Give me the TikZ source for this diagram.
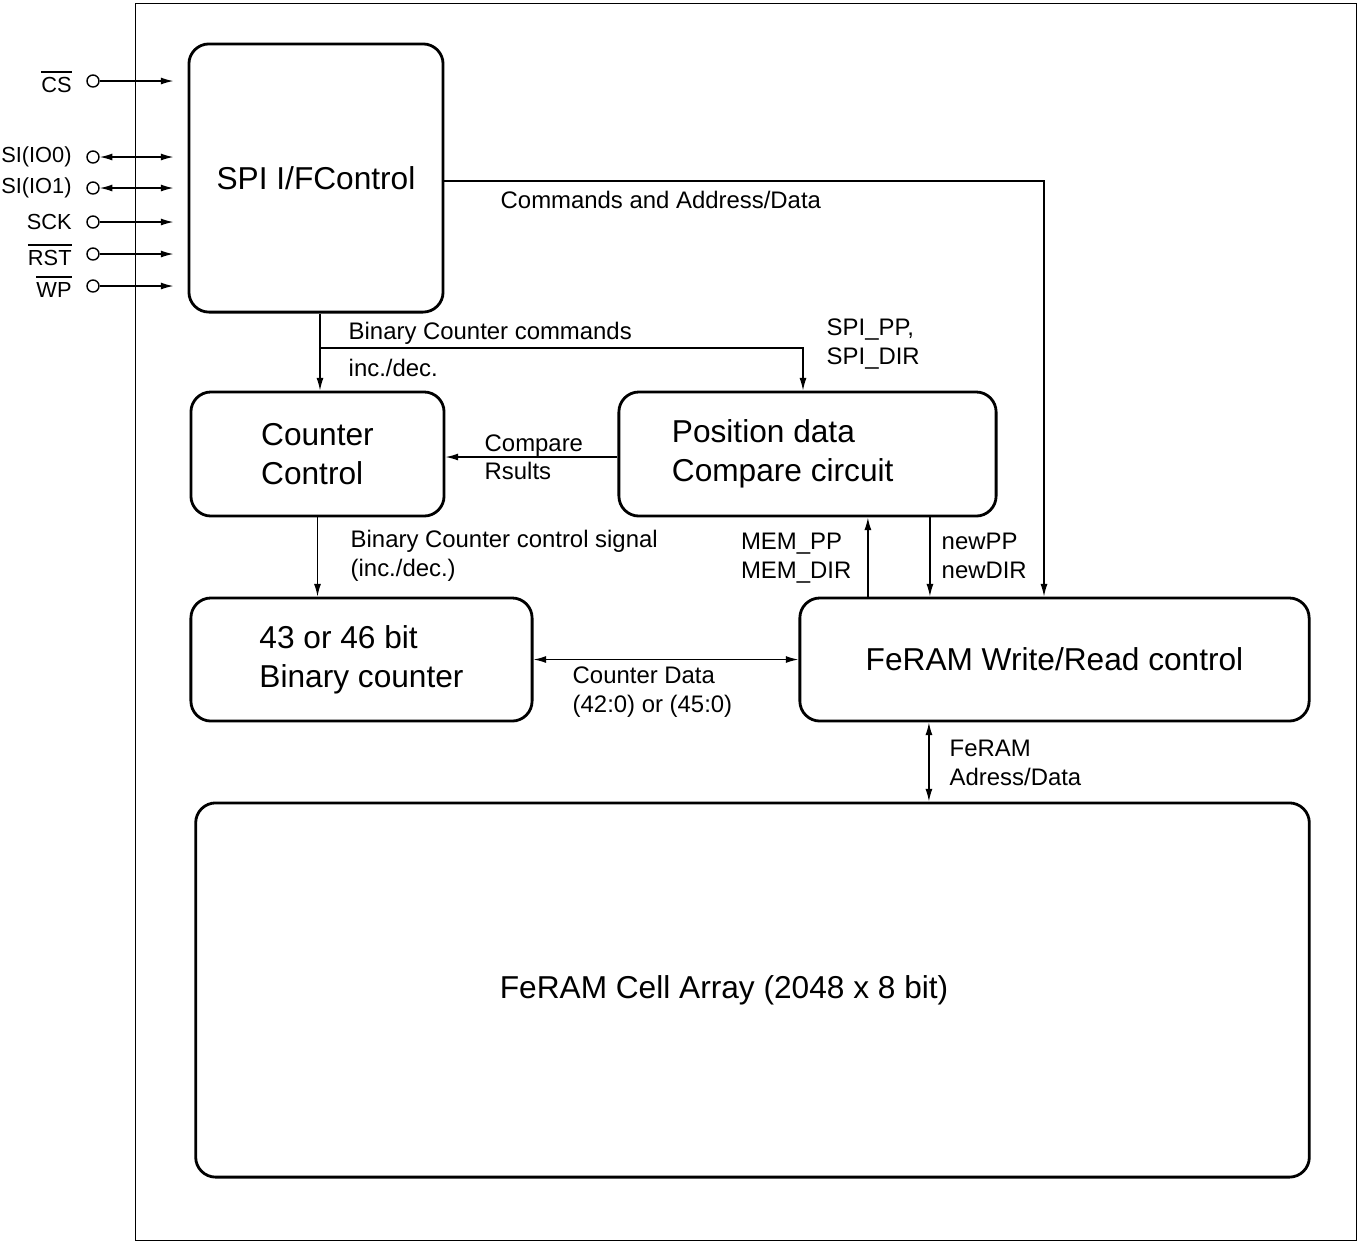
\documentclass[tikz,border=0pt]{standalone}
\usepackage{fontspec}
\setmainfont{Liberation Sans}
\usetikzlibrary{arrows.meta,positioning}
\tikzstyle{blk} = [rectangle, draw=black, line width=0.8pt, rounded corners=2mm, font=\fontsize{9}{11.1}\selectfont, align=left]
\tikzstyle{lbl} = [inner sep=0, font=\fontsize{6.8}{8.1}\selectfont, align=left]
\tikzstyle{pin} = [circle, draw=black, minimum size=1.2mm, inner sep=0]
\tikzstyle{pinlbl} = [inner sep=0, font=\fontsize{6.2}{7}\selectfont]

\begin{document}
\begin{tikzpicture}[x=0.01cm,y=-0.01cm,>={Latex[length=3.6pt,width=2pt]}]
	\useasboundingbox (0,0) rectangle (1357,1241);
	\node[draw,minimum width=122mm,minimum height=123.6mm,inner sep=0](chip) at (746,622) {};
	
	\node[blk,minimum width=25.4mm,minimum height=26.8mm](spi) at (316,178) {SPI I/FControl};
	\node[blk,minimum width=25.3mm,minimum height=12.4mm](ctr) at (317.5,454) {Counter\\Control};
	\node[blk,minimum width=37.7mm,minimum height=12.4mm,text width=27.1mm,inner xsep=0,align=flush left](pos) at (807.5,454) {Position data\\Compare circuit};
	\node[blk,minimum width=34.1mm,minimum height=12.3mm](bin) at (361.5,659.5) {43 or 46 bit\\Binary counter};
	\node[blk,minimum width=50.9mm,minimum height=12.3mm](wr) at (1054.5,659.5) {FeRAM Write/Read control};
	\node[blk,minimum width=111.3mm,minimum height=37.4mm,text width=50.5mm,inner xsep=0,align=flush left](cell) at (752.5,990) {FeRAM Cell Array (2048 x 8 bit)};
	
	% pins
	\node[pin](pcs) at (93,81) {};
	\node[pinlbl](lcs)[left=1.4mm of pcs]{$\overline{\mbox{CS}}$};
	\draw[->,shorten >=1.4mm] (pcs) -- (pcs -| spi.west);
	\node[pin](psi0) at (93,157) {};
	\node[pinlbl](lsi0)[left=1.4mm of psi0]{SI(IO0)};
	\draw[<->,shorten >=1.4mm] (psi0) -- (psi0 -| spi.west);
	\node[pin](psi1) at (93,188) {};
	\node[pinlbl](lsi1)[left=1.4mm of psi1]{SI(IO1)};
	\draw[<->,shorten >=1.4mm] (psi1) -- (psi1 -| spi.west);
	\node[pin](psck) at (93,222) {};
	\node[pinlbl](lsck)[left=1.4mm of psck]{SCK};
	\draw[->,shorten >=1.4mm] (psck) -- (psck -| spi.west);
	\node[pin](prst) at (93,254) {};
	\node[pinlbl](lrst)[left=1.4mm of prst]{$\overline{\mbox{RST}}$};
	\draw[->,shorten >=1.4mm] (prst) -- (prst -| spi.west);
	\node[pin](pwp) at (93,286) {};
	\node[pinlbl](lwp)[left=1.4mm of pwp]{$\overline{\mbox{WP}}$};
	\draw[->,shorten >=1.4mm] (pwp) -- (pwp -| spi.west);
	
	% commands to FeRAM control
	\coordinate (cmd) at (1044,181);
	\draw[->] (spi.east |- cmd) -- (cmd) -- (cmd |- wr.north);
	\node[lbl,anchor=west](lcmd) at (500,200) {Commands and Address/Data};
	
	% binary counter commands
	\coordinate (brc) at (320,348);
	\coordinate (spp) at (803,348);
	\draw[->] (brc |- spi.south) -- (brc |- ctr.north);
	\draw[->] (brc) -- (spp) -- (spp |- pos.north);
	\node[lbl,anchor=west](lbcc) at (348,333) {Binary Counter commands};
	\node[lbl,anchor=west](linc) at (348,368) {inc./dec.};
	\node[lbl,anchor=west](lspi) at (826,344) {SPI\_PP,\\SPI\_DIR};
	
	\draw[->] ([yshift=-0.3mm]pos.west) -- ([yshift=-0.3mm]ctr.east);
	\node[lbl,anchor=west](lcmp) at (484,457) {Compare\\Rsults};
	
	\draw[->] (ctr.south) -- (ctr.south |- bin.north);
	\node[lbl,anchor=west](lbsig) at (350,556) {Binary Counter control signal\\(inc./dec.)};
	
	\draw[<->] (bin.east) -- (wr.west);
	\node[lbl,anchor=west](lcd) at (572,692) {Counter Data\\(42:0) or (45:0)};
	
	\draw[->] ([xshift=-18.65mm]wr.north) -- ([xshift=-18.65mm]wr.north |- pos.south);
	\node[lbl,anchor=east](lmem) at (852,558) {MEM\_PP\\MEM\_DIR};
	\draw[->] ([xshift=-12.45mm]wr.north |- pos.south) -- ([xshift=-12.45mm]wr.north);
	\node[lbl,anchor=west](lnew) at (941,556) {newPP\\newDIR};
	
	\draw[<->] ([xshift=-12.55mm]wr.south) -- ([xshift=-12.55mm]wr.south |- cell.north);
	\node[lbl,anchor=west](lfa) at (949,763) {FeRAM\\Adress/Data};
\end{tikzpicture}
\end{document}
